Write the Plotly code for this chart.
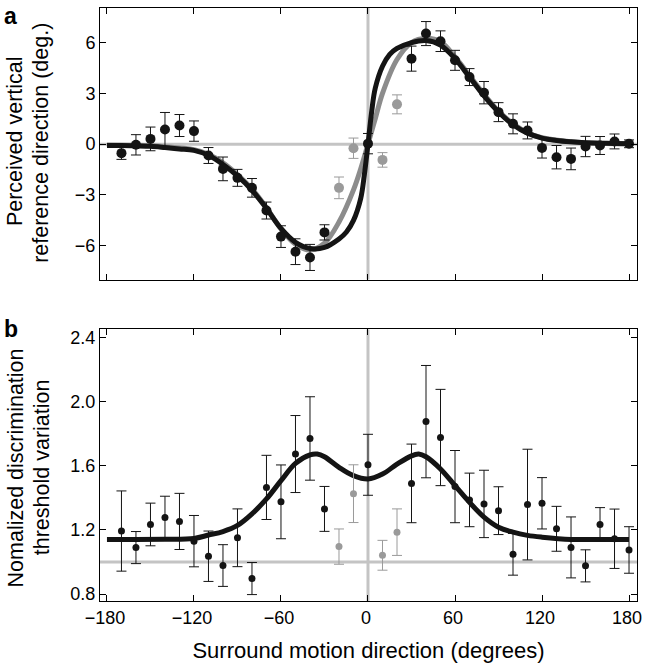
import plotly.graph_objects as go

# ---------------- data: panel a ----------------
dirs_a = [-170, -160, -150, -140, -130, -120, -110, -100, -90, -80, -70, -60, -50, -40, -30,
          0, 30, 40, 50, 60, 70, 80, 90, 100, 110, 120, 130, 140, 150, 160, 170, 180]
shift_a = [-0.53, -0.04, 0.31, 0.87, 1.10, 0.77, -0.67, -1.46, -1.99, -2.58, -3.92, -5.46, -6.35, -6.69, -5.21,
           0.03, 5.05, 6.53, 6.08, 4.95, 3.96, 3.04, 1.89, 1.20, 0.81, -0.22, -0.77, -0.87, -0.14, -0.08, 0.16, 0.02]
err_a = [0.37, 0.60, 0.70, 1.00, 0.65, 0.60, 0.47, 0.70, 0.50, 0.55, 0.50, 0.64, 0.76, 0.77, 0.45,
         0.60, 0.74, 0.71, 0.61, 0.59, 0.50, 0.66, 0.56, 0.59, 0.50, 0.60, 0.69, 0.64, 0.60, 0.53, 0.44, 0.23]

dirs_a_gray = [-20, -10, 10, 20]
shift_a_gray = [-2.58, -0.24, -0.93, 2.35]
err_a_gray = [0.64, 0.60, 0.43, 0.56]

fit_x_black = [-180, -170, -160, -150, -140, -130, -120, -110, -100, -90, -80, -70, -60, -50, -40, -30,
               -20, -15, -10, -5, -2.5, 0, 2.5, 5, 10, 15, 20, 30, 40, 50, 60, 70, 80, 90, 100, 110,
               120, 130, 140, 150, 160, 170, 180]
fit_y_black = [-0.08, -0.08, -0.10, -0.13, -0.20, -0.28, -0.37, -0.66, -1.20, -1.88, -2.72, -3.80, -4.98, -5.80, -6.16, -6.10,
               -5.60, -5.20, -4.50, -3.20, -1.80, 0.00, 1.90, 3.30, 4.60, 5.30, 5.65, 6.00, 6.12, 5.85, 5.05, 3.96, 2.85, 1.90, 1.15, 0.65,
               0.36, 0.22, 0.14, 0.09, 0.06, 0.04, 0.03]

fit_x_gray = [-180, -160, -140, -120, -110, -100, -90, -80, -70, -60, -50, -40, -30, -20, -10, -5, 0,
              5, 10, 20, 30, 40, 50, 60, 70, 80, 90, 100, 110, 120, 140, 160, 180]
fit_y_gray = [-0.05, -0.07, -0.15, -0.33, -0.60, -1.10, -1.80, -2.65, -3.75, -5.00, -5.90, -6.25, -5.85, -4.60, -2.70, -1.45, 0.00,
              1.50, 3.00, 5.00, 6.00, 6.25, 6.05, 5.15, 4.05, 2.95, 1.95, 1.20, 0.68, 0.38, 0.14, 0.06, 0.03]

# ---------------- data: panel b ----------------
dirs_b = [-170, -160, -150, -140, -130, -120, -110, -100, -90, -80, -70, -60, -50, -40, -30,
          0, 30, 40, 50, 60, 70, 80, 90, 100, 110, 120, 130, 140, 150, 160, 170, 180]
thr_b = [1.193, 1.09, 1.234, 1.277, 1.253, 1.13, 1.036, 0.978, 1.151, 0.897, 1.465, 1.375, 1.673, 1.77, 1.331,
         1.606, 1.49, 1.875, 1.776, 1.47, 1.387, 1.362, 1.32, 1.048, 1.358, 1.366, 1.207, 1.091, 0.976, 1.234, 1.145, 1.075]
err_b = [0.25, 0.10, 0.133, 0.133, 0.175, 0.16, 0.157, 0.13, 0.18, 0.10, 0.20, 0.23, 0.24, 0.26, 0.14,
         0.19, 0.245, 0.35, 0.30, 0.225, 0.167, 0.21, 0.149, 0.13, 0.345, 0.16, 0.14, 0.19, 0.10, 0.105, 0.185, 0.145]

dirs_b_gray = [-20, -10, 10, 20]
thr_b_gray = [1.096, 1.426, 1.042, 1.186]
err_b_gray = [0.11, 0.18, 0.093, 0.145]

fit_x_b = [-180, -160, -140, -120, -110, -100, -90, -80, -70, -60, -50, -40, -35, -30, -20, -10, 0,
           10, 20, 30, 35, 40, 50, 60, 70, 80, 90, 100, 110, 120, 140, 160, 180]
fit_y_b = [1.14, 1.14, 1.142, 1.147, 1.168, 1.19, 1.228, 1.30, 1.393, 1.507, 1.615, 1.668, 1.673, 1.656, 1.59, 1.538, 1.517,
           1.548, 1.61, 1.662, 1.673, 1.656, 1.58, 1.476, 1.372, 1.28, 1.217, 1.186, 1.166, 1.155, 1.141, 1.14, 1.14]

x_ticks = [-180, -120, -60, 0, 60, 120, 180]
ya_ticks = [-6, -3, 0, 3, 6]
yb_ticks = [0.8, 1.2, 1.6, 2.0, 2.4]
yb_ticktext = ["0.8", "1.2", "1.6", "2.0", "2.4"]

# ---------------- styles ----------------
FONT = "Liberation Sans, Arial, sans-serif"
BLACK = "#141414"
GRAY_PT = "#9a9a9a"
GRAY_FIT = "#8c8c8c"
REF = "#c4c4c4"

fig = go.Figure()

# panel a fits
fig.add_trace(go.Scatter(x=fit_x_gray, y=fit_y_gray, mode="lines", line=dict(color=GRAY_FIT, width=5, shape="spline"),
                         xaxis="x", yaxis="y", hoverinfo="skip"))
fig.add_trace(go.Scatter(x=fit_x_black, y=fit_y_black, mode="lines", line=dict(color=BLACK, width=5, shape="spline"),
                         xaxis="x", yaxis="y", hoverinfo="skip"))
# panel a points
fig.add_trace(go.Scatter(x=dirs_a_gray, y=shift_a_gray, mode="markers",
                         marker=dict(color=GRAY_PT, size=10),
                         error_y=dict(type="data", array=err_a_gray, color=GRAY_PT, thickness=1, width=5),
                         xaxis="x", yaxis="y"))
fig.add_trace(go.Scatter(x=dirs_a, y=shift_a, mode="markers",
                         marker=dict(color=BLACK, size=10),
                         error_y=dict(type="data", array=err_a, color=BLACK, thickness=1, width=5),
                         xaxis="x", yaxis="y"))

# panel b fit
fig.add_trace(go.Scatter(x=fit_x_b, y=fit_y_b, mode="lines", line=dict(color=BLACK, width=5, shape="spline"),
                         xaxis="x2", yaxis="y2", hoverinfo="skip"))
# panel b points
fig.add_trace(go.Scatter(x=dirs_b_gray, y=thr_b_gray, mode="markers",
                         marker=dict(color=GRAY_PT, size=7),
                         error_y=dict(type="data", array=err_b_gray, color=GRAY_PT, thickness=1, width=5),
                         xaxis="x2", yaxis="y2"))
fig.add_trace(go.Scatter(x=dirs_b, y=thr_b, mode="markers",
                         marker=dict(color=BLACK, size=7),
                         error_y=dict(type="data", array=err_b, color=BLACK, thickness=1, width=5),
                         xaxis="x2", yaxis="y2"))

XR = [-184.8, 185.5]
# reference lines
shapes = [
    dict(type="line", xref="x", yref="y", x0=XR[0], x1=XR[1], y0=0, y1=0, line=dict(color=REF, width=3), layer="below"),
    dict(type="line", xref="x", yref="y", x0=0, x1=0, y0=-8.0, y1=8.04, line=dict(color=REF, width=3), layer="below"),
    dict(type="line", xref="x2", yref="y2", x0=XR[0], x1=XR[1], y0=1.0, y1=1.0, line=dict(color=REF, width=3), layer="below"),
    dict(type="line", xref="x2", yref="y2", x0=0, x1=0, y0=0.757, y1=2.45, line=dict(color=REF, width=3), layer="below"),
]

axis_common = dict(showline=True, linecolor="black", linewidth=1, mirror="ticks", ticks="inside",
                   ticklen=6, tickcolor="black", tickwidth=1, showgrid=False, zeroline=False,
                   ticklabeloverflow="allow",
                   tickfont=dict(family=FONT, size=18, color="black"))

L, R, T, B = 100, 6, 6, 63
W, H = 648, 665
pw = W - L - R
ph = H - T - B

def px_x(p):
    return (p - L) / pw

def px_y(p):
    return (H - B - p) / ph

annotations = [
    dict(text="<b>a</b>", x=px_x(2), y=px_y(0), xref="paper", yref="paper", xanchor="left", yanchor="top",
         borderpad=0, showarrow=False, font=dict(family=FONT, size=23, color="black")),
    dict(text="<b>b</b>", x=px_x(2), y=px_y(329), xref="paper", yref="paper", xanchor="left", yanchor="middle",
         borderpad=0, showarrow=False, font=dict(family=FONT, size=23, color="black")),
    dict(text="Perceived vertical", x=px_x(15), y=px_y(140), xref="paper", yref="paper", xanchor="center",
         yanchor="middle", textangle=-90, borderpad=0, showarrow=False, font=dict(family=FONT, size=21.5, color="black")),
    dict(text="reference direction (deg.)", x=px_x(41), y=px_y(142), xref="paper", yref="paper", xanchor="center",
         yanchor="middle", textangle=-90, borderpad=0, showarrow=False, font=dict(family=FONT, size=21.5, color="black")),
    dict(text="Nomalized discrimination", x=px_x(15), y=px_y(468), xref="paper", yref="paper", xanchor="center",
         yanchor="middle", textangle=-90, borderpad=0, showarrow=False, font=dict(family=FONT, size=21.5, color="black")),
    dict(text="threshold variation", x=px_x(41), y=px_y(468), xref="paper", yref="paper", xanchor="center",
         yanchor="middle", textangle=-90, borderpad=0, showarrow=False, font=dict(family=FONT, size=21.5, color="black")),
]

fig.update_layout(
    width=W, height=H,
    margin=dict(l=L, r=R, t=T, b=B, pad=0),
    paper_bgcolor="white", plot_bgcolor="white",
    showlegend=False,
    xaxis=dict(domain=[0, 1], range=XR, tickvals=x_ticks, showticklabels=False, anchor="y", **axis_common),
    yaxis=dict(domain=[px_y(279), 1], range=[-8.0, 8.04], tickvals=ya_ticks, anchor="x", **axis_common),
    xaxis2=dict(domain=[0, 1], range=XR, tickvals=x_ticks, anchor="y2", ticklabelshift=-2,
                title=dict(text="Surround motion direction (degrees)", font=dict(family=FONT, size=22, color="black"), standoff=16),
                **axis_common),
    yaxis2=dict(domain=[0, px_y(329)], range=[0.757, 2.45], tickvals=yb_ticks, ticktext=yb_ticktext, anchor="x2",
                **axis_common),
    shapes=shapes,
    annotations=annotations,
)

# remove the browser's default page margin so the figure sits at the window origin
fig.write_html("out.html", config={"displayModeBar": False},
               post_script="document.body.style.margin='0';")
